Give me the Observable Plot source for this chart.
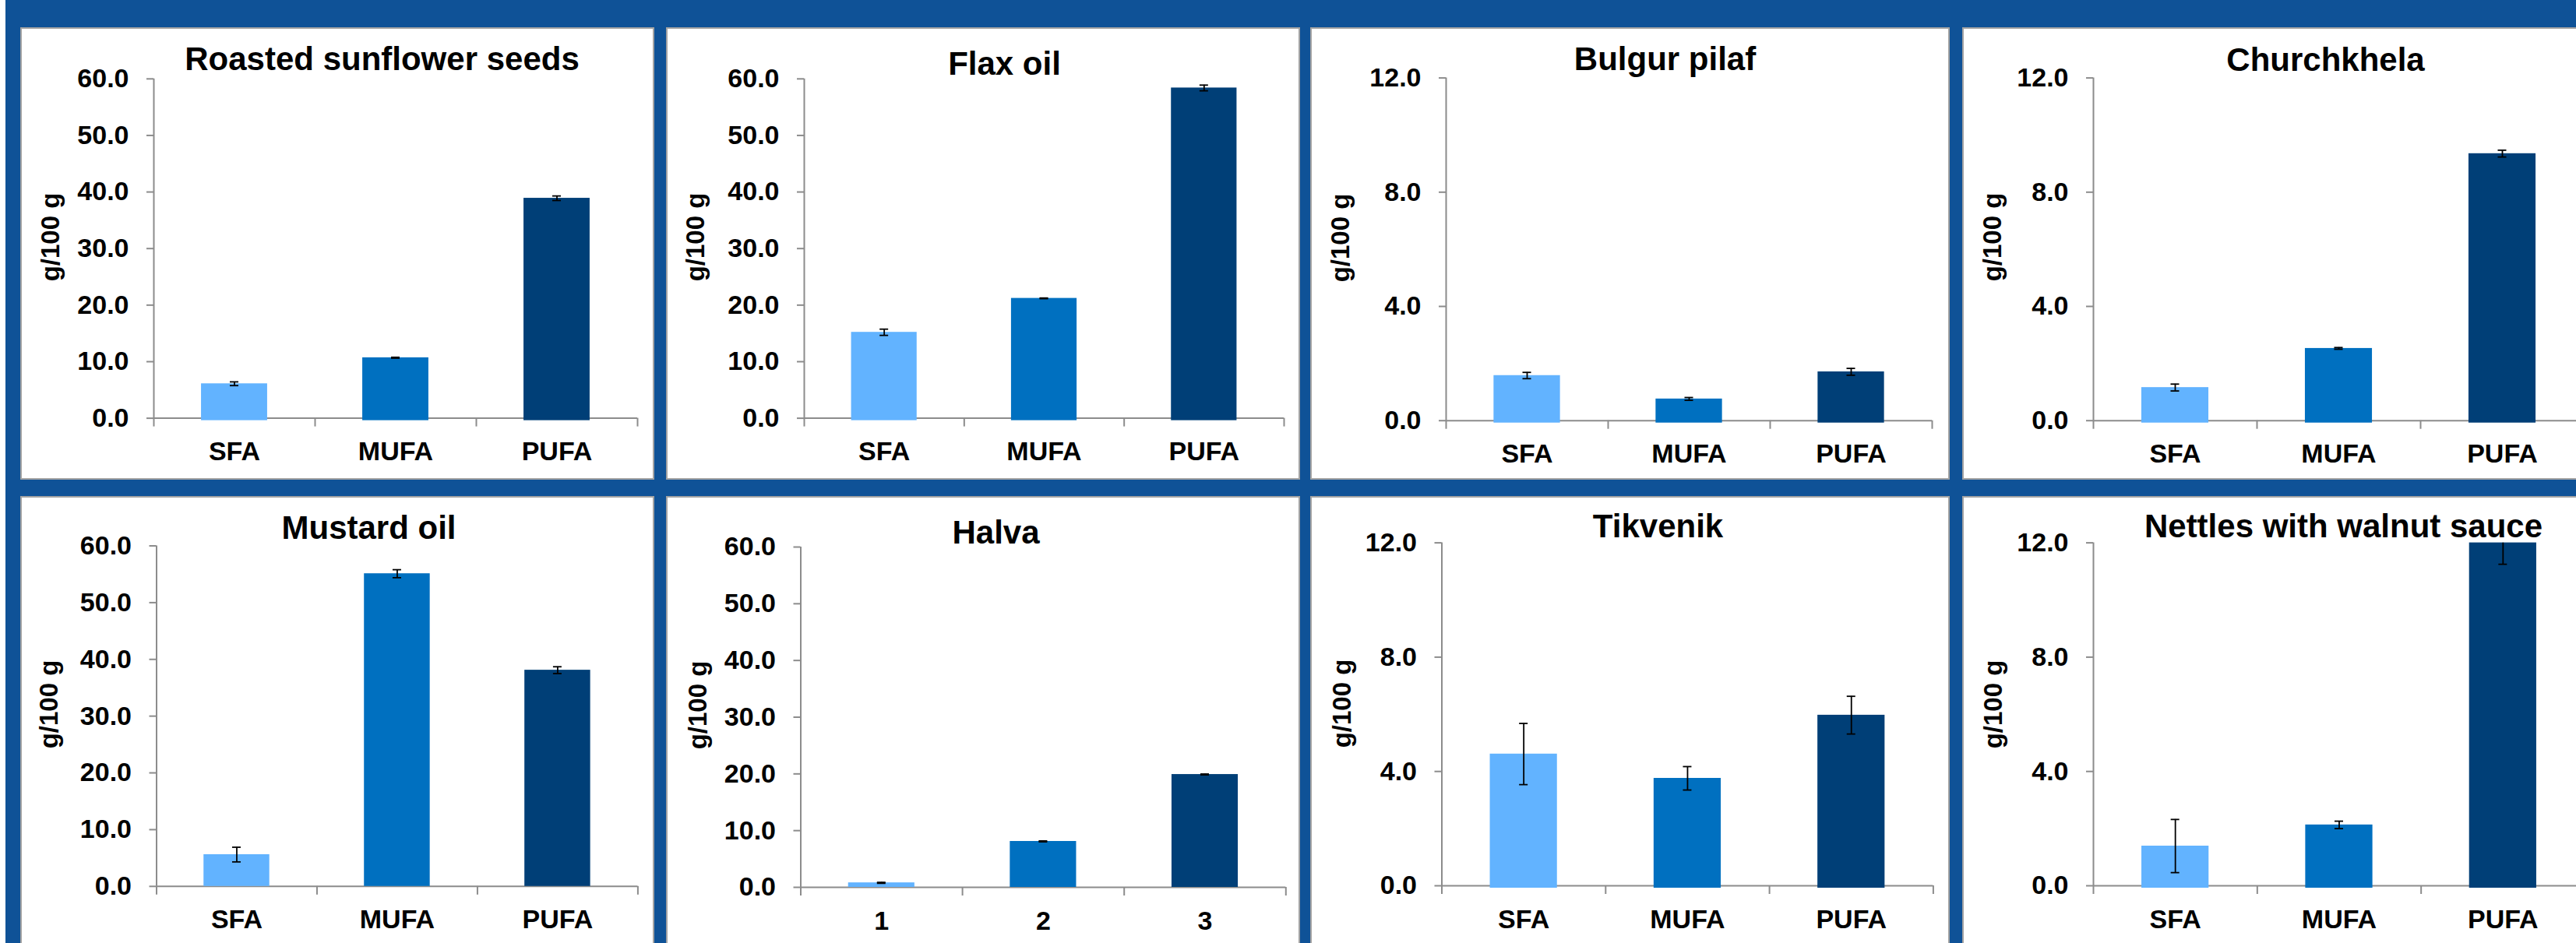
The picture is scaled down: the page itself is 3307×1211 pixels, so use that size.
<!DOCTYPE html>
<html>
<head>
<meta charset="utf-8">
<script src="https://cdn.jsdelivr.net/npm/d3@7"></script>
<script src="https://cdn.jsdelivr.net/npm/@observablehq/plot@0.6"></script>
<style>
html, body { margin: 0; padding: 0; background: #fff; }
#page { position: relative; width: 3307px; height: 1211px; overflow: hidden; background: #fff; }
#bg { position: absolute; left: 7px; top: 0; right: 0; bottom: 0; background: #0f5297; }
.panel { position: absolute; box-sizing: border-box; border: 2px solid #a3a3a3; background: #fff; }
</style>
</head>
<body>
<div id="page"><div id="bg"></div></div>
<script>
// ---------- data ----------
const fattyAcids = ["SFA", "MUFA", "PUFA"];
const halvaLabels = ["1", "2", "3"];
const foods = ["Roasted sunflower seeds", "Flax oil", "Bulgur pilaf", "Churchkhela",
               "Mustard oil", "Halva", "Tikvenik", "Nettles with walnut sauce"];
const sfa      = [6.1, 15.2, 1.58, 1.16, 5.6, 0.8, 4.61, 1.39];
const mufa     = [10.7, 21.2, 0.76, 2.53, 55.1, 8.1, 3.76, 2.13];
const pufa     = [38.9, 58.4, 1.71, 9.35, 38.1, 19.9, 5.97, 12.3];
const sfaErr   = [0.33, 0.55, 0.11, 0.12, 1.3, 0.08, 1.07, 0.93];
const mufaErr  = [0.08, 0.06, 0.05, 0.03, 0.7, 0.08, 0.41, 0.13];
const pufaErr  = [0.4, 0.5, 0.12, 0.12, 0.6, 0.08, 0.66, 1.05];
const yMax     = [60, 60, 12, 12, 60, 60, 12, 12];
const ticks60  = [0, 10, 20, 30, 40, 50, 60];
const ticks12  = [0, 4, 8, 12];
const yLabel   = "g/100 g";

// ---------- styles / layout ----------
const palette = ["#62b3ff", "#0070c0", "#003f77"];
const axisGrey = "#8c8c8c";
const font = "'Liberation Sans', Arial, sans-serif";
// box: outer panel rect; frame: plot area; title: centre x, baseline; ylab: centre
const layout = [
  {box: [26, 35, 840, 616],    frame: [197, 100.8, 818, 536.6],    title: [490, 89],    ylab: [65, 304],    ext: true},
  {box: [855, 35, 1669, 616],  frame: [1032, 100.8, 1648, 536.6],  title: [1289, 95],   ylab: [893, 304],   ext: true},
  {box: [1682, 35, 2503, 616], frame: [1856, 99.6, 2480, 539.7],   title: [2137, 89],   ylab: [1721, 305],  ext: true},
  {box: [2519, 35, 3340, 616], frame: [2687, 99.6, 3317, 539.7],   title: [2985, 90],   ylab: [2558, 304],  ext: true},
  {box: [26, 637, 840, 1218],  frame: [200.5, 700.5, 818.4, 1137.8], title: [473, 691.6], ylab: [63, 904],  ext: false},
  {box: [855, 637, 1669, 1218],frame: [1027.5, 702, 1650.3, 1139], title: [1278, 697.4], ylab: [896, 905],  ext: false},
  {box: [1682, 637, 2503, 1218],frame: [1850.5, 696.6, 2481.4, 1137], title: [2128, 689], ylab: [1722.6, 903], ext: true},
  {box: [2519, 637, 3340, 1218],frame: [2687, 696.6, 3318, 1137],  title: [3008, 689],  ylab: [2559, 904],  ext: true}
];

const page = document.getElementById("page");

layout.forEach((L, p) => {
  const [bx0, by0, bx1, by1] = L.box;
  const [fx0, fy0, fx1, fy1] = L.frame;
  const width = bx1 - bx0, height = by1 - by0;

  const div = document.createElement("div");
  div.className = "panel";
  Object.assign(div.style, {left: bx0 + "px", top: by0 + "px", width: width + "px", height: height + "px"});
  page.appendChild(div);

  const labels = p === 5 ? halvaLabels : fattyAcids;
  const vals = [sfa[p], mufa[p], pufa[p]];
  const errs = [sfaErr[p], mufaErr[p], pufaErr[p]];
  const rows = labels.map((cat, i) => ({i, cat, v: vals[i], e: errs[i]}));
  const ticks = yMax[p] === 60 ? ticks60 : ticks12;

  const chart = Plot.plot({
    width, height,
    marginLeft: fx0 - bx0, marginRight: bx1 - fx1,
    marginTop: fy0 - by0, marginBottom: by1 - fy1,
    x: {domain: [0, 3]},
    y: {domain: [0, yMax[p]], clamp: true},
    style: {fontFamily: font, fontWeight: "bold", fontSize: "34px", background: "transparent", color: "black", overflow: "visible"},
    marks: [
      Plot.ruleX([0], {stroke: axisGrey, strokeWidth: 2}),
      Plot.ruleY([0], {stroke: axisGrey, strokeWidth: 2}),
      Plot.axisY({ticks, tickSize: 9, tickPadding: 23, tickFormat: d3.format(".1f"),
                  stroke: axisGrey, strokeWidth: 2, fill: "black", fontSize: 34, fontWeight: "bold", label: null}),
      Plot.axisX({ticks: [0, 1, 2, 3], tickSize: 11, tickFormat: () => "", stroke: axisGrey, strokeWidth: 2, label: null}),
      Plot.axisX({ticks: [0.5, 1.5, 2.5], tickSize: 0, tickPadding: 30,
                  tickFormat: (d) => labels[Math.floor(d)], fill: "black", fontSize: 34, fontWeight: "bold", label: null}),
      Plot.rectY(rows, {x1: (d) => d.i + 0.295, x2: (d) => d.i + 0.705, y1: 0, y2: "v",
                        fill: (d) => palette[d.i], insetBottom: L.ext ? -3 : 0}),
      Plot.ruleX(rows, {x: (d) => d.i + 0.5, y1: (d) => d.v - d.e, y2: (d) => d.v + d.e,
                        stroke: "black", strokeWidth: 1.8, clip: true}),
      Plot.ruleY(rows, {y: (d) => d.v - d.e, x1: (d) => d.i + 0.5, x2: (d) => d.i + 0.5,
                        insetLeft: -5.5, insetRight: -5.5, stroke: "black", strokeWidth: 1.8, clip: true}),
      Plot.ruleY(rows.filter((d) => d.v + d.e <= yMax[p]), {y: (d) => d.v + d.e, x1: (d) => d.i + 0.5, x2: (d) => d.i + 0.5,
                        insetLeft: -5.5, insetRight: -5.5, stroke: "black", strokeWidth: 1.8}),
      Plot.text([foods[p]], {text: (d) => d, frameAnchor: "top-left", dx: L.title[0] - fx0, dy: L.title[1] - fy0,
                             textAnchor: "middle", lineAnchor: "bottom", fontSize: 42, fontWeight: "bold", fill: "black"}),
      Plot.text([yLabel], {text: (d) => d, frameAnchor: "top-left", dx: L.ylab[0] - fx0, dy: L.ylab[1] - fy0,
                           rotate: -90, textAnchor: "middle", lineAnchor: "middle", fontSize: 33, fontWeight: "bold", fill: "black"})
    ]
  });
  chart.style.position = "absolute";
  chart.style.left = bx0 + "px";
  chart.style.top = by0 + "px";
  page.appendChild(chart);
});
</script>
</body>
</html>
